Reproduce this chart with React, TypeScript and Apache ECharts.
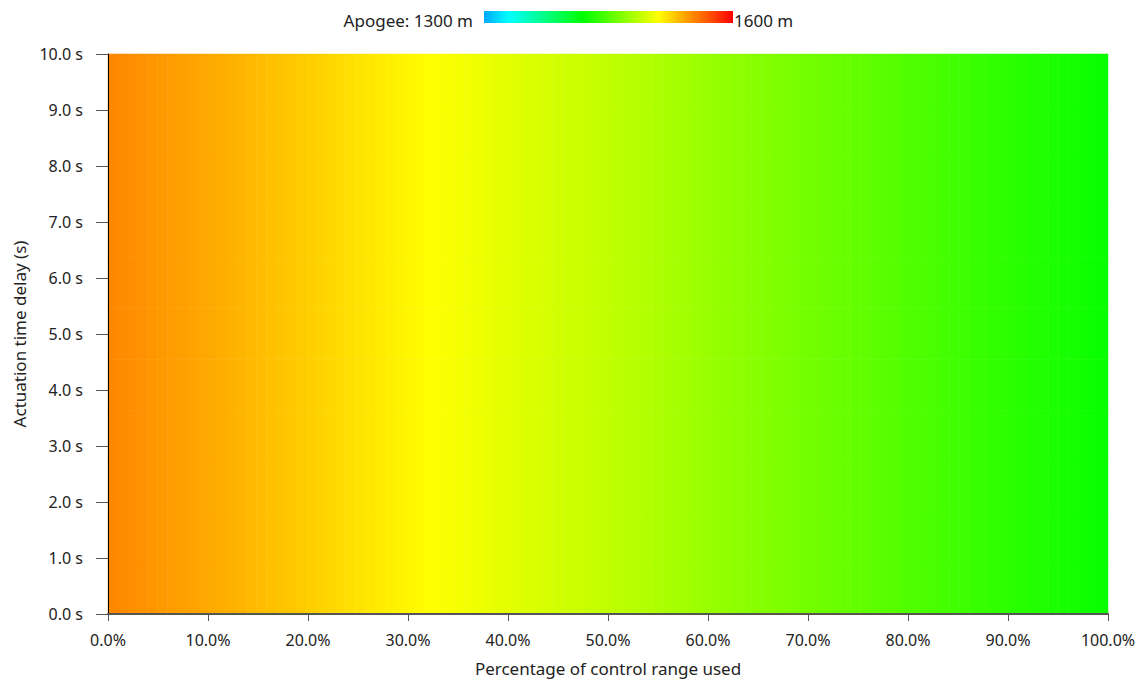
import React, { useEffect, useRef } from "react";
import * as echarts from "echarts";

const percents: number[] = Array.from({ length: 101 }, (_, i) => i);
const delays: number[] = [0, 1, 2, 3, 4, 5, 6, 7, 8, 9, 10];

const apogee: number[] = [
  1552.0, 1550.8, 1549.6, 1548.4, 1547.2, 1546.0, 1544.8, 1543.6, 1542.4, 1541.2, 1540.0,
  1538.7, 1537.4, 1536.1, 1534.8, 1533.5, 1532.2, 1530.9, 1529.6, 1528.3, 1527.0,
  1525.6, 1524.2, 1522.8, 1521.4, 1520.0, 1518.6, 1517.2, 1515.8, 1514.4, 1513.0,
  1511.7, 1510.4, 1509.1, 1507.8, 1506.5, 1505.2, 1503.9, 1502.6, 1501.3, 1500.0,
  1498.8, 1497.6, 1496.4, 1495.2, 1494.0, 1492.8, 1491.6, 1490.4, 1489.2, 1488.0,
  1486.6, 1485.2, 1483.8, 1482.4, 1481.0, 1479.6, 1478.2, 1476.8, 1475.4, 1474.0,
  1472.7, 1471.4, 1470.1, 1468.8, 1467.5, 1466.2, 1464.9, 1463.6, 1462.3, 1461.0,
  1459.8, 1458.6, 1457.4, 1456.2, 1455.0, 1453.8, 1452.6, 1451.4, 1450.2, 1449.0,
  1447.7, 1446.4, 1445.1, 1443.8, 1442.5, 1441.2, 1439.9, 1438.6, 1437.3, 1436.0,
  1434.7, 1433.4, 1432.1, 1430.8, 1429.5, 1428.2, 1426.9, 1425.6, 1424.3, 1423.0,
];

const scaleColors: string[] = [
  "#00a8ff", "#00ffff", "#00ffaa", "#00ff55", "#00ff00", "#55ff00",
  "#aaff00", "#ffff00", "#ffaa00", "#ff5500", "#ff0000",
];

const scaleMin = 1300;
const scaleMax = 1600;

const FONT = "Noto Sans";

export default function App() {
  const ref = useRef<HTMLDivElement>(null);
  useEffect(() => {
    if (!ref.current) return;
    const chart = echarts.init(ref.current, undefined, { renderer: "svg" });
    const data: number[][] = [];
    delays.forEach((_, yi) => {
      percents.forEach((_, xi) => {
        data.push([xi, yi, apogee[xi]]);
      });
    });
    const stops = scaleColors.map((c, i) => ({ offset: i / (scaleColors.length - 1), color: c }));
    chart.setOption({
      animation: false,
      textStyle: { fontFamily: FONT },
      grid: { left: 108, right: 33, top: 54, bottom: 66, containLabel: false },
      visualMap: {
        type: "continuous",
        show: false,
        min: scaleMin,
        max: scaleMax,
        inRange: { color: scaleColors },
        seriesIndex: 0,
      },
      graphic: [
        {
          type: "rect",
          shape: { x: 484, y: 11, width: 249, height: 12 },
          style: {
            fill: new echarts.graphic.LinearGradient(0, 0, 1, 0, stops),
          },
        },
        {
          type: "text",
          x: 473,
          y: 20,
          style: {
            text: "Apogee: " + scaleMin + " m",
            align: "right",
            verticalAlign: "middle",
            fontSize: 17,
            fontFamily: FONT,
            fill: "#222",
          },
        },
        {
          type: "text",
          x: 734,
          y: 20,
          style: {
            text: scaleMax + " m",
            align: "left",
            verticalAlign: "middle",
            fontSize: 17,
            fontFamily: FONT,
            fill: "#222",
          },
        },
      ],
      xAxis: [
        {
          type: "category",
          data: percents,
          show: false,
        },
        {
          type: "value",
          min: 0,
          max: 100,
          interval: 10,
          position: "bottom",
          z: 5,
          name: "Percentage of control range used",
          nameLocation: "middle",
          nameGap: 46,
          nameTextStyle: { fontSize: 17, color: "#222", fontFamily: FONT },
          axisLine: { show: true, onZero: false, lineStyle: { color: "#555", width: 2 } },
          axisTick: { show: true, length: 7, lineStyle: { color: "#555" } },
          axisLabel: {
            fontSize: 16,
            color: "#222",
            margin: 18,
            fontFamily: FONT,
            formatter: (v: number) => v.toFixed(1) + "%",
          },
          splitLine: { show: false },
        },
      ],
      yAxis: [
        {
          type: "category",
          data: delays,
          show: false,
        },
        {
          type: "value",
          min: 0,
          max: 10,
          interval: 1,
          position: "left",
          z: 5,
          name: "Actuation time delay (s)",
          nameLocation: "middle",
          nameGap: 80,
          nameTextStyle: { fontSize: 17, color: "#222", fontFamily: FONT },
          axisLine: { show: true, onZero: false, lineStyle: { color: "#000", width: 1 } },
          axisTick: { show: true, length: 12, lineStyle: { color: "#555" } },
          axisLabel: {
            fontSize: 16,
            color: "#222",
            margin: 25,
            fontFamily: FONT,
            formatter: (v: number) => v.toFixed(1) + " s",
          },
          splitLine: { show: false },
        },
      ],
      series: [
        {
          type: "heatmap",
          xAxisIndex: 0,
          yAxisIndex: 0,
          data,
          progressive: 0,
          itemStyle: { borderWidth: 0 },
          emphasis: { disabled: true },
        },
      ],
    });
    return () => chart.dispose();
  }, []);
  return (
    <div
      ref={ref}
      style={{ position: "absolute", left: 0, top: 0, width: 1141, height: 682 }}
    />
  );
}
